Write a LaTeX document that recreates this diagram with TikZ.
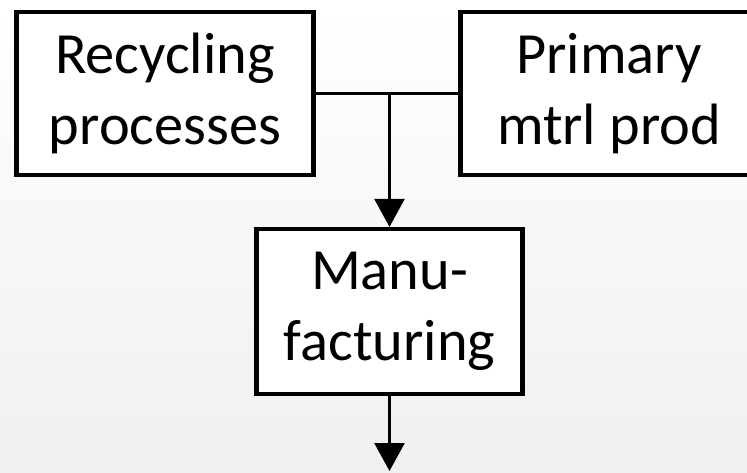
\documentclass[tikz,border=0pt]{standalone}
\usepackage{fontspec}
\setmainfont{Carlito}
\usepackage{tikz}
\usetikzlibrary{arrows.meta}
\pgfdeclarelayer{backlayer}
\pgfdeclarelayer{edgelayer}
\pgfdeclarelayer{nodelayer}
\pgfsetlayers{backlayer,edgelayer,nodelayer,main}
\tikzset{
	stage/.style={draw, fill=white, line width=1.2pt, align=center, inner sep=0pt,
		font=\fontsize{16.6}{20.2}\selectfont, minimum height=1.63cm},
	flow/.style={line width=0.7pt, -{Triangle[width=0.3cm,length=0.28cm]}}
}
\begin{document}
\begin{tikzpicture}
	\useasboundingbox (0, 0) rectangle (7.47, 4.72);
	\begin{pgfonlayer}{backlayer}
		\shade [top color=white, bottom color=black!6] (0, 0) rectangle (7.47, 4.72);
	\end{pgfonlayer}
	\begin{pgfonlayer}{nodelayer}
		\node [stage, minimum width=2.97cm] (0) at (1.65, 3.785) {Recycling\\processes};
		\node [stage, minimum width=2.97cm] (1) at (6.09, 3.785) {Primary\\mtrl prod};
		\node [stage, minimum width=2.66cm, minimum height=1.65cm] (2) at (3.895, 1.605) {Manu-\\facturing};
		\coordinate (3) at (3.895, 3.785);
		\coordinate (4) at (3.895, 0.01);
	\end{pgfonlayer}
	\begin{pgfonlayer}{edgelayer}
		\draw [line width=0.7pt] (0) to (1);
		\draw [style=flow] (3) to (2.north);
		\draw [style=flow] (2.south) to (4);
	\end{pgfonlayer}
\end{tikzpicture}
\end{document}
